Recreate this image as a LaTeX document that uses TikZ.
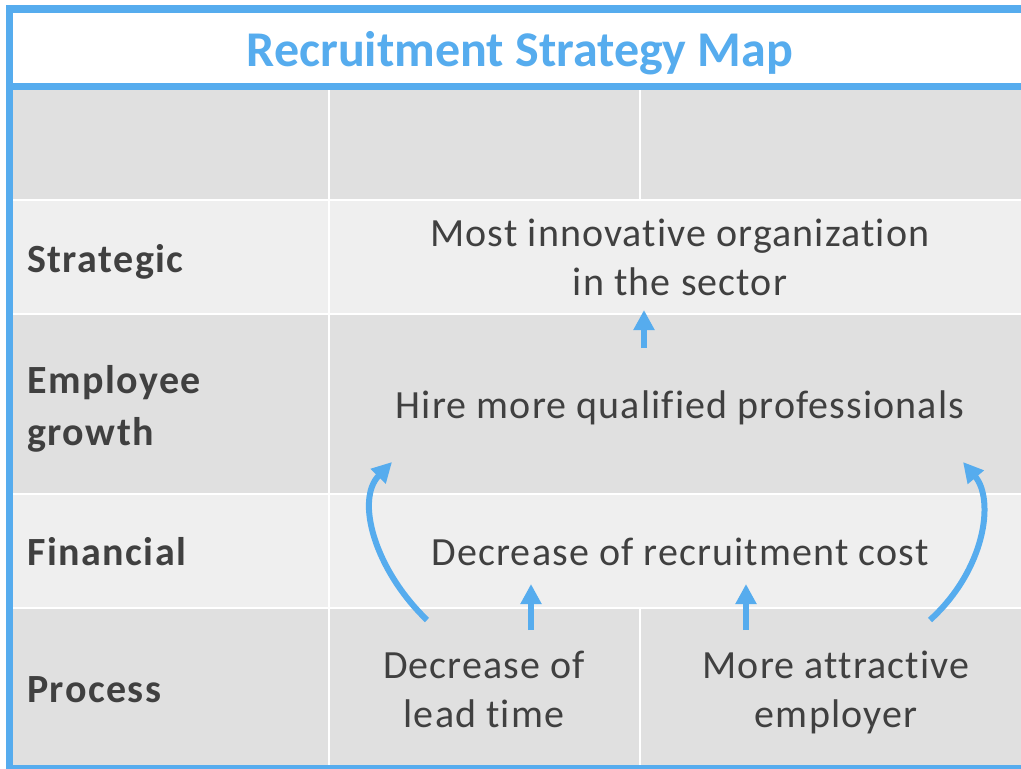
\documentclass[tikz,border=0pt]{standalone}
\usepackage{fontspec}
\setmainfont[Ligatures=NoCommon]{Carlito}
\newfontfamily\bodyfont[LetterSpace=2.8,Ligatures=NoCommon]{Carlito}
\newfontfamily\labelfont[LetterSpace=3.7,Ligatures=NoCommon]{Carlito}
\usetikzlibrary{arrows.meta}
\definecolor{frameblue}{HTML}{56ACEE}
\definecolor{rowdark}{HTML}{E0E0E0}
\definecolor{rowlight}{HTML}{EFEFEF}
\definecolor{ink}{HTML}{404040}
\begin{document}
\begin{tikzpicture}[x=1pt,y=-1pt,
  rowlabel/.style={anchor=base west, inner sep=0pt, font=\labelfont\fontsize{40}{52}\selectfont\bfseries, text=ink, align=left},
  cell/.style={anchor=base, inner sep=0pt, font=\bodyfont\fontsize{40}{49}\selectfont, text=ink, align=center},
  flow/.style={draw=frameblue, line width=6pt, -{Triangle[length=20pt,width=20pt]}},
]
\useasboundingbox (0,0) rectangle (1021,769);
\fill[white] (0,0) rectangle (1021,769);

% frame
\fill[frameblue] (6,5) rectangle (1021,13);
\fill[frameblue] (6,5) rectangle (13,769);
\fill[frameblue] (6,83) rectangle (1021,90);
\fill[frameblue] (6,765) rectangle (1021,769);

% header row
\fill[rowdark] (13,90) rectangle (328,199);
\fill[rowdark] (330,90) rectangle (639,199);
\fill[rowdark] (641,90) rectangle (1021,199);
% strategic
\fill[rowlight] (13,201) rectangle (328,313);
\fill[rowlight] (330,201) rectangle (1021,313);
% employee growth
\fill[rowdark] (13,315) rectangle (328,493);
\fill[rowdark] (330,315) rectangle (1021,493);
% financial
\fill[rowlight] (13,495) rectangle (328,607);
\fill[rowlight] (330,495) rectangle (1021,607);
% process
\fill[rowdark] (13,609) rectangle (328,765);
\fill[rowdark] (330,609) rectangle (639,765);
\fill[rowdark] (641,609) rectangle (1021,765);

% title
\node[anchor=base, inner sep=0pt, font=\fontsize{50}{60}\selectfont\bfseries, text=frameblue] (title) at (520,66) {Recruitment Strategy Map};

% row labels (multi-line nodes sit on their last baseline)
\node[rowlabel] (strategic) at (27,272) {Strategic};
\node[rowlabel] (employee) at (27,445) {Employee\\growth};
\node[rowlabel] (financial) at (27,565) {Financial};
\node[rowlabel] (process) at (27,702) {Process};

% objectives
\node[cell] (innov) at (680,295) {Most innovative organization\\in the sector};
\node[cell] (hire) at (680,418) {Hire more qualified professionals};
\node[cell] (cost) at (680,565) {Decrease of recruitment cost};
\node[cell] (lead) at (484,727) {Decrease of\\lead time};
\node[cell] (attract) at (836,727) {More attractive\\employer};

% arrow end points
\coordinate (hireTop) at (644,348);
\coordinate (innovBot) at (644,310);
\coordinate (leadTop) at (531,630);
\coordinate (costBotL) at (531,584);
\coordinate (attractTop) at (746,630);
\coordinate (costBotR) at (746,584);
\coordinate (leadCorner) at (427,620);
\coordinate (hireLeft) at (392,462);
\coordinate (attractCorner) at (930,620);
\coordinate (hireRight) at (963,462);

% links
\draw[flow] (hireTop) -- (innovBot);
\draw[flow] (leadTop) -- (costBotL);
\draw[flow] (attractTop) -- (costBotR);
\draw[flow] (leadCorner) .. controls (375,570) and (355,500) .. (hireLeft);
\draw[flow] (attractCorner) .. controls (985,570) and (995,500) .. (hireRight);
\end{tikzpicture}
\end{document}
